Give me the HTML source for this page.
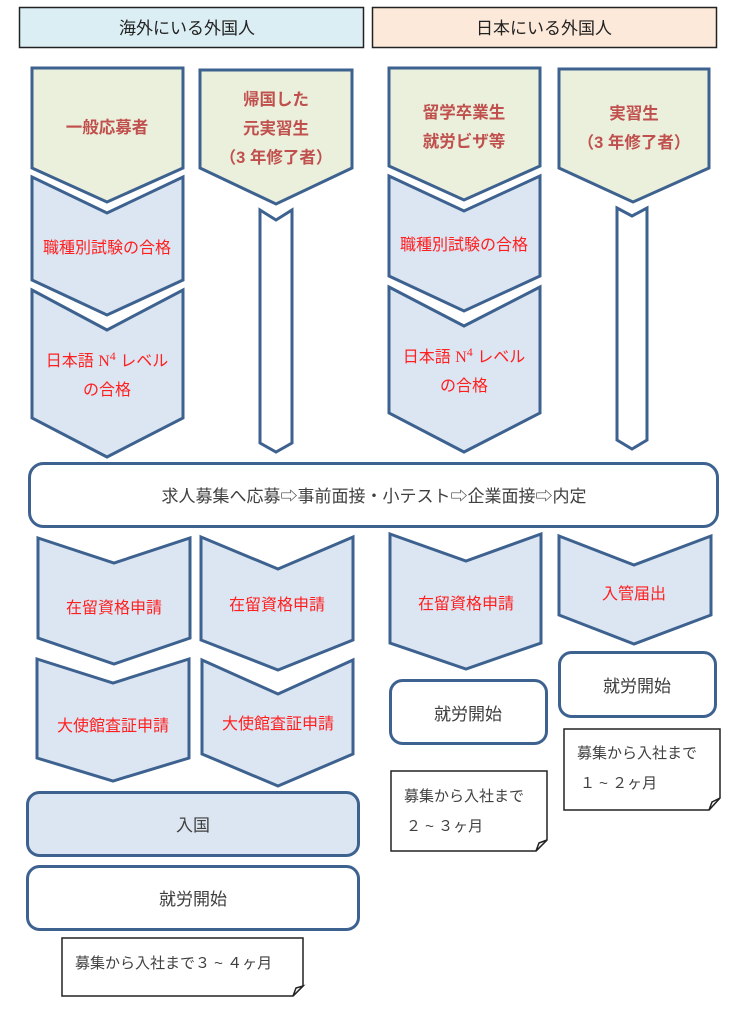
<!DOCTYPE html>
<html><head><meta charset="utf-8">
<style>
html,body{margin:0;padding:0;background:#fff;}
svg{display:block;}
text{font-family:"Liberation Sans","Noto Sans CJK JP",sans-serif;}
.g{fill:#ebf0dd;stroke:#3e6290;stroke-width:3;stroke-linejoin:miter;}
.b{fill:#dce6f2;stroke:#3e6290;stroke-width:3;stroke-linejoin:miter;}
.w{fill:#fff;stroke:#3e6290;stroke-width:3;}
.r{fill:#ff1f1f;font-size:16px;text-anchor:middle;}
.dr{fill:#c0504d;font-size:16.5px;font-weight:bold;text-anchor:middle;}
.k{fill:#404040;font-size:17px;text-anchor:middle;}
.n{fill:#fff;stroke:#222;stroke-width:1.5;}
.nk{fill:#404040;font-size:15px;}
</style></head><body>
<svg width="738" height="1024" viewBox="0 0 738 1024" xmlns="http://www.w3.org/2000/svg">
<rect x="19.5" y="7.5" width="344" height="40" fill="#dbeef4" stroke="#222" stroke-width="1.5"/>
<text x="187" y="34" class="k" style="fill:#222">海外にいる外国人</text>
<rect x="372.5" y="7.5" width="344" height="40" fill="#fde9d9" stroke="#222" stroke-width="1.5"/>
<text x="544" y="34" class="k" style="fill:#222">日本にいる外国人</text>

<!-- Col A -->
<polygon class="g" points="32,68 183,68 183,168 107,202 32,168"/>
<text x="107" y="133" class="dr">一般応募者</text>
<polygon class="b" points="32,177 107,213 183,177 183,280 107,315 32,280"/>
<text x="107" y="253" class="r">職種別試験の合格</text>
<polygon class="b" points="32,290 107,330 183,290 183,418 107,457 32,418"/>
<text x="107" y="366" class="r">日本語 <tspan font-family="Liberation Serif">N</tspan><tspan font-family="Liberation Serif" font-size="12" dy="-6">4</tspan><tspan dy="6"> レベル</tspan></text>
<text x="107" y="395" class="r">の合格</text>

<!-- Col B -->
<polygon class="g" points="200,70 352,70 352,168 276,204 200,168"/>
<text x="276" y="105" class="dr">帰国した</text>
<text x="276" y="134" class="dr">元実習生</text>
<text x="276" y="163" class="dr">（3 年修了者）</text>
<polygon class="w" points="260,210 276,220 292,210 292,443 276,452 260,443"/>

<!-- Col C -->
<polygon class="g" points="389,68 540,68 540,166 464,200 389,166"/>
<text x="464" y="118" class="dr">留学卒業生</text>
<text x="464" y="147" class="dr">就労ビザ等</text>
<polygon class="b" points="389,176 464,211 540,176 540,276 464,311 389,276"/>
<text x="464" y="250" class="r">職種別試験の合格</text>
<polygon class="b" points="389,287 464,326 540,287 540,413 464,452 389,413"/>
<text x="464" y="362" class="r">日本語 <tspan font-family="Liberation Serif">N</tspan><tspan font-family="Liberation Serif" font-size="12" dy="-6">4</tspan><tspan dy="6"> レベル</tspan></text>
<text x="464" y="391" class="r">の合格</text>

<!-- Col D -->
<polygon class="g" points="559,69 709,69 709,168 633,202 559,168"/>
<text x="634" y="119" class="dr">実習生</text>
<text x="634" y="148" class="dr">（3 年修了者）</text>
<polygon class="w" points="617,208 632,216 647,208 647,440 632,449 617,440"/>

<!-- Big box -->
<rect class="w" x="29.5" y="463.5" width="688" height="63" rx="14"/>
<text x="374" y="502" class="k">求人募集へ応募⇨事前面接・小テスト⇨企業面接⇨内定</text>

<!-- Bottom left -->
<polygon class="b" points="38,538 114,563 190,538 190,638 114,664 38,638"/>
<text x="114" y="613" class="r">在留資格申請</text>
<polygon class="b" points="201,537 278,569 353,537 353,640 278,670 201,640"/>
<text x="277" y="610" class="r">在留資格申請</text>
<polygon class="b" points="37,659 113,683 189,659 189,758 113,781 37,758"/>
<text x="113" y="731" class="r">大使館査証申請</text>
<polygon class="b" points="202,660 278,694 353,660 353,754 278,786 202,754"/>
<text x="278" y="729" class="r">大使館査証申請</text>
<rect class="b" x="27.5" y="792.5" width="331" height="63" rx="12"/>
<text x="193" y="831" class="k">入国</text>
<rect class="w" x="27.5" y="866.5" width="331" height="63" rx="12"/>
<text x="193" y="905" class="k">就労開始</text>
<polygon class="n" points="62,938 303,938 303,986 293,996 62,996"/>
<polygon class="n" points="293,996 296,988 303,986"/>
<text x="75" y="968" class="nk">募集から入社まで３ ~ ４ヶ月</text>

<!-- Bottom C -->
<polygon class="b" points="390,534 466,561 541,534 541,643 466,669 390,643"/>
<text x="466" y="609" class="r">在留資格申請</text>
<rect class="w" x="390.5" y="680.5" width="156" height="63" rx="12"/>
<text x="468" y="720" class="k">就労開始</text>
<polygon class="n" points="391,771 547,771 547,840 536,851 391,851"/>
<polygon class="n" points="536,851 539,843 547,840"/>
<text x="404" y="801" class="nk">募集から入社まで</text>
<text x="406" y="831" class="nk">２ ~ ３ヶ月</text>

<!-- Bottom D -->
<polygon class="b" points="559,536 634,565 711,536 711,615 634,644 559,615"/>
<text x="634" y="599" class="r">入管届出</text>
<rect class="w" x="559.5" y="652.5" width="156" height="64" rx="12"/>
<text x="637" y="692" class="k">就労開始</text>
<polygon class="n" points="564,729 720,729 720,798 709,810 564,810"/>
<polygon class="n" points="709,810 712,802 720,798"/>
<text x="577" y="758" class="nk">募集から入社まで</text>
<text x="580" y="788" class="nk">１ ~ ２ヶ月</text>
</svg>
</body></html>
